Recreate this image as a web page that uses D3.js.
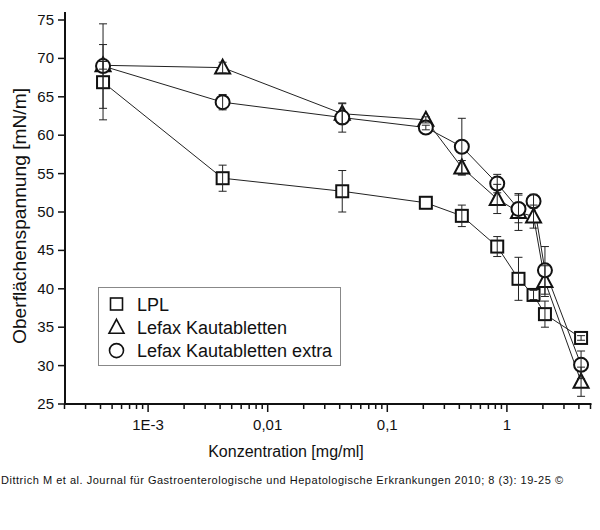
<!DOCTYPE html>
<html>
<head>
    <meta charset="utf-8">
    <title>Oberflächenspannung</title>
    <script src="https://cdn.jsdelivr.net/npm/d3@7/dist/d3.min.js"></script>
    <style>
        body {
            margin: 0;
            padding: 0;
            background-color: white;
            font-family: "Liberation Sans", Arial, sans-serif;
        }
        .tick-label {
            font-size: 15px;
            fill: #111;
        }
        .axis-title {
            font-size: 16px;
            fill: #111;
        }
        .legend-text {
            font-size: 18px;
            fill: #111;
        }
        .footer {
            font-size: 11px;
            fill: #111;
        }
    </style>
</head>
<body>
    <div id="chart"></div>

    <script>
        // concentration in mg/ml
        const conc = [0.00042, 0.0042, 0.042, 0.21, 0.42, 0.83, 1.25, 1.67, 2.08, 4.17];

        const lplValues = [66.9, 54.4, 52.7, 51.2, 49.5, 45.5, 41.3, 39.2, 36.7, 33.6];
        const lplErrors = [4.9, 1.7, 2.7, 0, 1.4, 1.3, 2.8, 0.6, 1.7, 0.3];

        const lefaxValues = [69.1, 68.8, 62.8, 62.0, 55.8, 51.7, 50.0, 49.4, 41.0, 27.9];
        const lefaxErrors = [0.5, 0.7, 1.3, 0.4, 0.9, 1.9, 2.4, 1.5, 2.0, 1.9];

        const extraValues = [69.0, 64.3, 62.3, 61.0, 58.5, 53.7, 50.4, 51.4, 42.4, 30.1];
        const extraErrors = [5.5, 1.0, 1.9, 0.3, 3.7, 1.2, 1.8, 0.9, 3.1, 1.8];

        const seriesNames = ["LPL", "Lefax Kautabletten", "Lefax Kautabletten extra"];
        const yTicks = [25, 30, 35, 40, 45, 50, 55, 60, 65, 70, 75];
        const xMajorTicks = [0.001, 0.01, 0.1, 1];
        const xTickLabels = ["1E-3", "0,01", "0,1", "1"];

        const series = [
            { name: seriesNames[0], shape: "square", values: lplValues, errors: lplErrors },
            { name: seriesNames[1], shape: "triangle", values: lefaxValues, errors: lefaxErrors },
            { name: seriesNames[2], shape: "circle", values: extraValues, errors: extraErrors }
        ];

        const width = 600, height = 530;
        const svg = d3.select("#chart").append("svg")
            .attr("width", width)
            .attr("height", height);

        const x = d3.scaleLog().domain([0.0002, 5]).range([64.5, 590.5]);
        const y = d3.scaleLinear().domain([25, 75]).range([404, 20]);

        // minor ticks 2..9 of each decade
        const minorTicks = [];
        for (let e = -4; e <= 0; e++) {
            for (let m = 2; m <= 9; m++) {
                const v = m * Math.pow(10, e);
                if (v >= 0.0002 && v <= 5) minorTicks.push(v);
            }
        }

        const axisG = svg.append("g");
        axisG.selectAll(".minor")
            .data(minorTicks)
            .enter().append("line")
            .attr("x1", d => x(d)).attr("x2", d => x(d))
            .attr("y1", 404).attr("y2", 409)
            .attr("stroke", "#111").attr("stroke-width", 1.5);

        axisG.selectAll(".major")
            .data(xMajorTicks)
            .enter().append("line")
            .attr("x1", d => x(d)).attr("x2", d => x(d))
            .attr("y1", 404).attr("y2", 412)
            .attr("stroke", "#111").attr("stroke-width", 1.5);

        axisG.selectAll(".xlabel")
            .data(xMajorTicks)
            .enter().append("text")
            .attr("class", "tick-label")
            .attr("x", d => x(d))
            .attr("y", 430)
            .attr("text-anchor", "middle")
            .text((d, i) => xTickLabels[i]);

        axisG.selectAll(".ytick")
            .data(yTicks)
            .enter().append("line")
            .attr("x1", 58).attr("x2", 65)
            .attr("y1", d => y(d)).attr("y2", d => y(d))
            .attr("stroke", "#111").attr("stroke-width", 1.5);

        axisG.selectAll(".ylabel")
            .data(yTicks)
            .enter().append("text")
            .attr("class", "tick-label")
            .attr("x", 54)
            .attr("y", d => y(d) + 5)
            .attr("text-anchor", "end")
            .text(d => d);

        // axis lines
        axisG.append("line")
            .attr("x1", 65).attr("x2", 65)
            .attr("y1", y(75) - 8).attr("y2", 405)
            .attr("stroke", "#111").attr("stroke-width", 2);
        axisG.append("line")
            .attr("x1", 64).attr("x2", x(5) + 1)
            .attr("y1", 404).attr("y2", 404)
            .attr("stroke", "#111").attr("stroke-width", 2);

        svg.append("text")
            .attr("class", "axis-title")
            .attr("x", 286)
            .attr("y", 457)
            .attr("text-anchor", "middle")
            .text("Konzentration [mg/ml]");

        svg.append("text")
            .attr("class", "axis-title")
            .style("font-size", "18px")
            .attr("transform", "translate(26,216) rotate(-90)")
            .attr("text-anchor", "middle")
            .attr("textLength", 256)
            .attr("lengthAdjust", "spacingAndGlyphs")
            .text("Oberflächenspannung [mN/m]");

        // legend
        const legend = svg.append("g");
        legend.append("rect")
            .attr("x", 98.5).attr("y", 287.5)
            .attr("width", 242).attr("height", 78)
            .attr("fill", "white")
            .attr("stroke", "#888").attr("stroke-width", 1);

        function drawMarker(g, shape, cx, cy, sw) {
            if (shape === "square") {
                g.append("rect")
                    .attr("x", cx - 6).attr("y", cy - 6)
                    .attr("width", 12).attr("height", 12)
                    .attr("fill", "white").attr("stroke", "#111").attr("stroke-width", sw);
            } else if (shape === "triangle") {
                g.append("path")
                    .attr("d", `M${cx},${cy - 8}L${cx + 7.5},${cy + 6}L${cx - 7.5},${cy + 6}Z`)
                    .attr("fill", "white").attr("stroke", "#111").attr("stroke-width", sw);
            } else {
                g.append("circle")
                    .attr("cx", cx).attr("cy", cy).attr("r", 7)
                    .attr("fill", "white").attr("stroke", "#111").attr("stroke-width", sw);
            }
        }

        series.forEach((s, i) => {
            const ly = 304 + i * 23.3;
            drawMarker(legend, s.shape, 116.5, ly, 1.6);
            legend.append("text")
                .attr("class", "legend-text")
                .attr("x", 137)
                .attr("y", ly + 6.5)
                .text(s.name);
        });

        // data
        const plot = svg.append("g");
        const line = d3.line()
            .x(d => x(d.c))
            .y(d => y(d.v));

        series.forEach(s => {
            const pts = conc.map((c, i) => ({ c: c, v: s.values[i], e: s.errors[i] }));
            s.pts = pts;
            plot.append("path")
                .datum(pts)
                .attr("d", line)
                .attr("fill", "none")
                .attr("stroke", "#222")
                .attr("stroke-width", 1);
        });

        series.forEach(s => {
            const g = plot.append("g");
            s.pts.forEach(p => drawMarker(g, s.shape, x(p.c), y(p.v), 2));
        });

        // error bars on top
        series.forEach(s => {
            const g = plot.append("g")
                .attr("stroke", "#222")
                .attr("stroke-width", 1);
            s.pts.filter(p => p.e > 0).forEach(p => {
                const cx = x(p.c);
                g.append("line")
                    .attr("x1", cx).attr("x2", cx)
                    .attr("y1", y(p.v + p.e)).attr("y2", y(p.v - p.e));
                g.append("line")
                    .attr("x1", cx - 4).attr("x2", cx + 4)
                    .attr("y1", y(p.v + p.e)).attr("y2", y(p.v + p.e));
                g.append("line")
                    .attr("x1", cx - 4).attr("x2", cx + 4)
                    .attr("y1", y(p.v - p.e)).attr("y2", y(p.v - p.e));
            });
        });

        svg.append("text")
            .attr("class", "footer")
            .attr("x", 1)
            .attr("y", 484)
            .attr("textLength", 562)
            .attr("lengthAdjust", "spacing")
            .text("Dittrich M  et al. Journal für Gastroenterologische und Hepatologische Erkrankungen 2010; 8 (3): 19-25 ©");
    </script>
</body>
</html>
